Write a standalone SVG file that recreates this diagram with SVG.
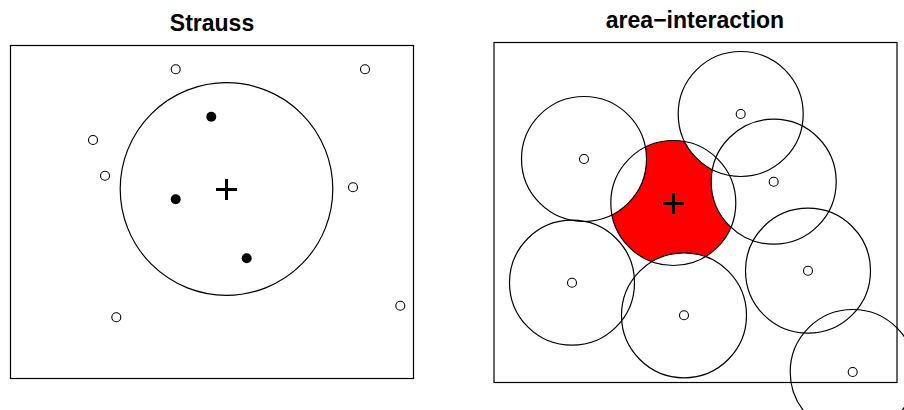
<svg xmlns="http://www.w3.org/2000/svg" width="904" height="410" viewBox="0 0 904 410">
<style>
.title{font-family:"Liberation Sans",Arial,sans-serif;font-weight:bold;font-size:23px;text-anchor:middle;fill:#000}
.box{fill:none;stroke:#000;stroke-width:1.2}
.disc{fill:none;stroke:#000;stroke-width:1.2}
.pt{fill:#fff;stroke:#000;stroke-width:1.1}
.dot{fill:#000}
.plus{stroke:#000;stroke-width:3;fill:none}
</style>
<defs>
<mask id="freeArea" maskUnits="userSpaceOnUse" x="0" y="0" width="904" height="410">
<circle cx="673.3" cy="203" r="62.5" fill="#fff"/>
<circle cx="584" cy="159" r="62.5" fill="#000"/>
<circle cx="740.7" cy="114" r="62.5" fill="#000"/>
<circle cx="773.7" cy="181.7" r="62.5" fill="#000"/>
<circle cx="572" cy="282.7" r="62.5" fill="#000"/>
<circle cx="684" cy="315.3" r="62.5" fill="#000"/>
<circle cx="808" cy="270.7" r="62.5" fill="#000"/>
<circle cx="852.7" cy="372" r="62.5" fill="#000"/>
</mask>
</defs>
<g id="strauss">
<text class="title" x="212" y="30.5">Strauss</text>
<rect class="box" x="10.5" y="45.5" width="403" height="333"/>
<circle class="disc" cx="226.5" cy="189" r="106.3"/>
<path class="plus" d="M216 189.5H237M226.5 179V200"/>
<circle class="dot" cx="211.3" cy="116.7" r="5"/>
<circle class="dot" cx="175.7" cy="199.3" r="5"/>
<circle class="dot" cx="246.7" cy="258.3" r="5"/>
<circle class="pt" cx="175.7" cy="69.3" r="4.5"/>
<circle class="pt" cx="365" cy="69.3" r="4.5"/>
<circle class="pt" cx="93" cy="140" r="4.5"/>
<circle class="pt" cx="105" cy="175.7" r="4.5"/>
<circle class="pt" cx="353" cy="187.3" r="4.5"/>
<circle class="pt" cx="400.3" cy="305.7" r="4.5"/>
<circle class="pt" cx="116.3" cy="317.3" r="4.5"/>
</g>
<g id="area-interaction">
<text class="title" x="695" y="28.3">area−interaction</text>
<rect class="box" x="494" y="42.5" width="403" height="340"/>
<rect x="0" y="0" width="904" height="410" fill="#f00" mask="url(#freeArea)"/>
<circle class="disc" cx="673.3" cy="203" r="62.5"/>
<circle class="disc" cx="584" cy="159" r="62.5"/>
<circle class="disc" cx="740.7" cy="114" r="62.5"/>
<circle class="disc" cx="773.7" cy="181.7" r="62.5"/>
<circle class="disc" cx="572" cy="282.7" r="62.5"/>
<circle class="disc" cx="684" cy="315.3" r="62.5"/>
<circle class="disc" cx="808" cy="270.7" r="62.5"/>
<circle class="disc" cx="852.7" cy="372" r="62.5"/>
<path class="plus" d="M663 203.5H684M673.5 193V214"/>
<circle class="pt" cx="584" cy="159" r="4.5"/>
<circle class="pt" cx="740.7" cy="114" r="4.5"/>
<circle class="pt" cx="773.7" cy="181.7" r="4.5"/>
<circle class="pt" cx="572" cy="282.7" r="4.5"/>
<circle class="pt" cx="684" cy="315.3" r="4.5"/>
<circle class="pt" cx="808" cy="270.7" r="4.5"/>
<circle class="pt" cx="852.7" cy="372" r="4.5"/>
</g>
</svg>
